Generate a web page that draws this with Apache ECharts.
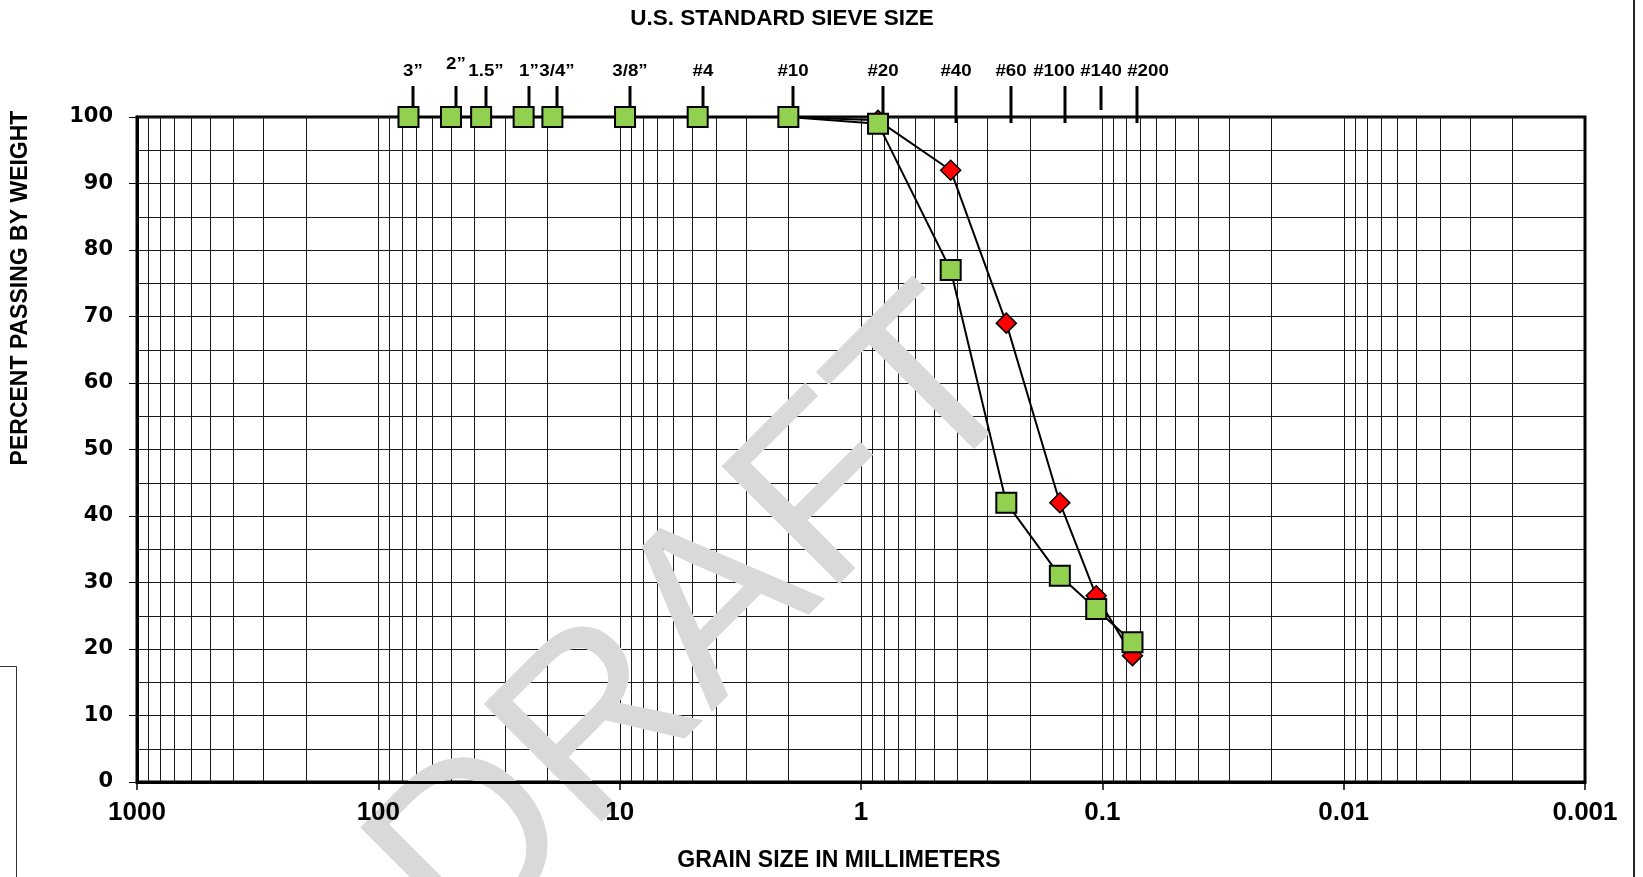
<!DOCTYPE html>
<html>
<head>
<meta charset="utf-8">
<script src="https://cdn.jsdelivr.net/npm/echarts@6/dist/echarts.min.js"></script>
<style>
  html, body { margin: 0; padding: 0; background: #fff; }
  #chart { width: 1643px; height: 877px; }
</style>
</head>
<body>
<div id="chart"></div>
<script>
// U.S. standard sieve names and their openings in millimetres
const sieveNames = ['3\u201D', '2\u201D', '1.5\u201D', '1\u201D', '3/4\u201D', '3/8\u201D', '#4', '#10', '#20', '#40', '#60', '#100', '#140', '#200'];
const sieveSizes = [75, 50, 37.5, 25, 19, 9.5, 4.75, 2.0, 0.85, 0.425, 0.25, 0.15, 0.106, 0.075];

// Percent passing by weight at each sieve
const passingSquares = [100, 100, 100, 100, 100, 100, 100, 100, 99, 77, 42, 31, 26, 21];
const passingDiamonds = [100, 100, 100, 100, 100, 100, 100, 100, 99.5, 92, 69, 42, 28, 19];

// Axis tick labels
const xTickLabels = ['1000', '100', '10', '1', '0.1', '0.01', '0.001'];
const yTickLabels = ['0', '10', '20', '30', '40', '50', '60', '70', '80', '90', '100'];

// Log-cycle grid: every 1..9 multiple inside the 0.001 - 1000 mm range
const logGridValues = [];
for (let e = -3; e <= 2; e++) {
  for (let m = 1; m <= 9; m++) {
    if (e === -3 && m === 1) continue;
    logGridValues.push(m * Math.pow(10, e));
  }
}

// Sieve caption placement tweaks so crowded names stay readable
const captionNudge = {
  '2\u201D': [0, -7],
  '#100': [-11, 0],
  '#200': [11, 0]
};
const sieveTickShift = 5;

const chart = echarts.init(document.getElementById('chart'));

const labelFont = 'Liberation Sans';
const wideFont = 'DejaVu Sans';

chart.setOption({
  animation: false,
  backgroundColor: '#fff',
  grid: {
    left: 137, right: 58, top: 117, bottom: 95,
    show: true, borderColor: '#000', borderWidth: 3
  },
  xAxis: {
    type: 'log',
    logBase: 10,
    min: 0.001,
    max: 1000,
    inverse: true,
    z: 5,
    axisLine: { show: true, onZero: false, lineStyle: { color: '#000', width: 3 } },
    axisTick: { show: true, length: 8, lineStyle: { color: '#000', width: 1.5 } },
    splitLine: { show: false },
    axisLabel: {
      margin: 18,
      color: '#000',
      fontFamily: labelFont,
      fontWeight: 'bold',
      fontSize: 26,
      formatter: v => xTickLabels[3 - Math.round(Math.log10(v))]
    }
  },
  yAxis: {
    type: 'value',
    min: 0,
    max: 100,
    interval: 10,
    z: 0,
    axisLine: { show: true, lineStyle: { color: '#000', width: 3 } },
    axisTick: { show: true, length: 8, lineStyle: { color: '#000', width: 1 } },
    minorTick: { show: false, splitNumber: 2 },
    splitLine: { show: true, lineStyle: { color: '#1a1a1a', width: 1 } },
    minorSplitLine: { show: true, lineStyle: { color: '#1a1a1a', width: 1 } },
    axisLabel: {
      margin: 24,
      color: '#000',
      fontFamily: wideFont,
      fontWeight: 'bold',
      fontSize: 21,
      formatter: v => yTickLabels[Math.round(v / 10)]
    }
  },
  graphic: [
    {
      type: 'text', x: 782, y: 19, z: 10, silent: true,
      style: { text: 'U.S. STANDARD SIEVE SIZE', font: 'bold 22.5px "Liberation Sans"', fill: '#000', align: 'center', verticalAlign: 'middle' }
    },
    {
      type: 'text', x: 839, y: 861, z: 10, silent: true,
      style: { text: 'GRAIN SIZE IN MILLIMETERS', font: 'bold 23px "Liberation Sans"', fill: '#000', align: 'center', verticalAlign: 'middle' }
    },
    {
      type: 'text', x: 21, y: 288, z: 10, silent: true, rotation: Math.PI / 2,
      style: { text: 'PERCENT PASSING BY WEIGHT', font: 'bold 23px "Liberation Sans"', fill: '#000', align: 'center', verticalAlign: 'middle' }
    },
    {
      // watermark
      type: 'text', x: 702, y: 627, z: 1, silent: true, rotation: Math.PI / 4,
      style: { text: 'DRAFT', font: '242px "Liberation Sans"', fill: '#d9d9d9', align: 'center', verticalAlign: 'middle' }
    },
    {
      type: 'line', z: 0, silent: true,
      shape: { x1: 1634, y1: 0, x2: 1634, y2: 877 },
      style: { stroke: '#222', lineWidth: 2 }
    },
    {
      type: 'polyline', z: 0, silent: true,
      shape: { points: [[0, 666.5], [16.5, 666.5], [16.5, 877]] },
      style: { stroke: '#333', lineWidth: 1, fill: null }
    }
  ],
  series: [
    {
      // vertical log-cycle grid lines
      type: 'custom',
      coordinateSystem: 'cartesian2d',
      silent: true,
      z: 0,
      encode: { x: 0, y: 1 },
      data: logGridValues.map(v => [v, 0]),
      renderItem: (params, api) => {
        const b = api.coord([api.value(0), 0]);
        const t = api.coord([api.value(0), 100]);
        const x = Math.round(b[0]) + 0.5;
        return {
          type: 'line',
          shape: { x1: x, y1: t[1], x2: x, y2: b[1] },
          style: { stroke: '#1a1a1a', lineWidth: 1 }
        };
      }
    },
    {
      // sieve ticks and names along the top edge
      type: 'custom',
      coordinateSystem: 'cartesian2d',
      silent: true,
      clip: false,
      z: 4,
      encode: { x: 0, y: 1 },
      data: sieveSizes.map(s => [s, 100]),
      renderItem: (params, api) => {
        const p = api.coord([api.value(0), 100]);
        const name = sieveNames[params.dataIndex];
        const x = Math.round(p[0]) + sieveTickShift;
        const tickBottom = name === '#140' ? p[1] - 7 : p[1] + 6;
        const nudge = captionNudge[name] || [0, 0];
        return {
          type: 'group',
          children: [
            {
              type: 'line',
              shape: { x1: x, y1: p[1] - 31, x2: x, y2: tickBottom },
              style: { stroke: '#000', lineWidth: 3 }
            },
            {
              type: 'text',
              x: x + nudge[0],
              y: p[1] - 45 + nudge[1],
              scaleX: 1.17,
              style: {
                text: name,
                fill: '#000',
                font: 'bold 16px "Liberation Sans"',
                align: 'center',
                verticalAlign: 'middle'
              }
            }
          ]
        };
      }
    },
    {
      type: 'line',
      z: 10,
      data: sieveSizes.map((s, i) => [s, passingDiamonds[i]]),
      symbol: 'diamond',
      symbolSize: 20,
      itemStyle: { color: '#ff0000', borderColor: '#000', borderWidth: 1.5 },
      lineStyle: { color: '#000', width: 2 }
    },
    {
      type: 'line',
      z: 11,
      data: sieveSizes.map((s, i) => [s, passingSquares[i]]),
      symbol: 'rect',
      symbolSize: 20,
      itemStyle: { color: '#92d050', borderColor: '#000', borderWidth: 2 },
      lineStyle: { color: '#000', width: 2 }
    }
  ]
});
</script>
</body>
</html>
